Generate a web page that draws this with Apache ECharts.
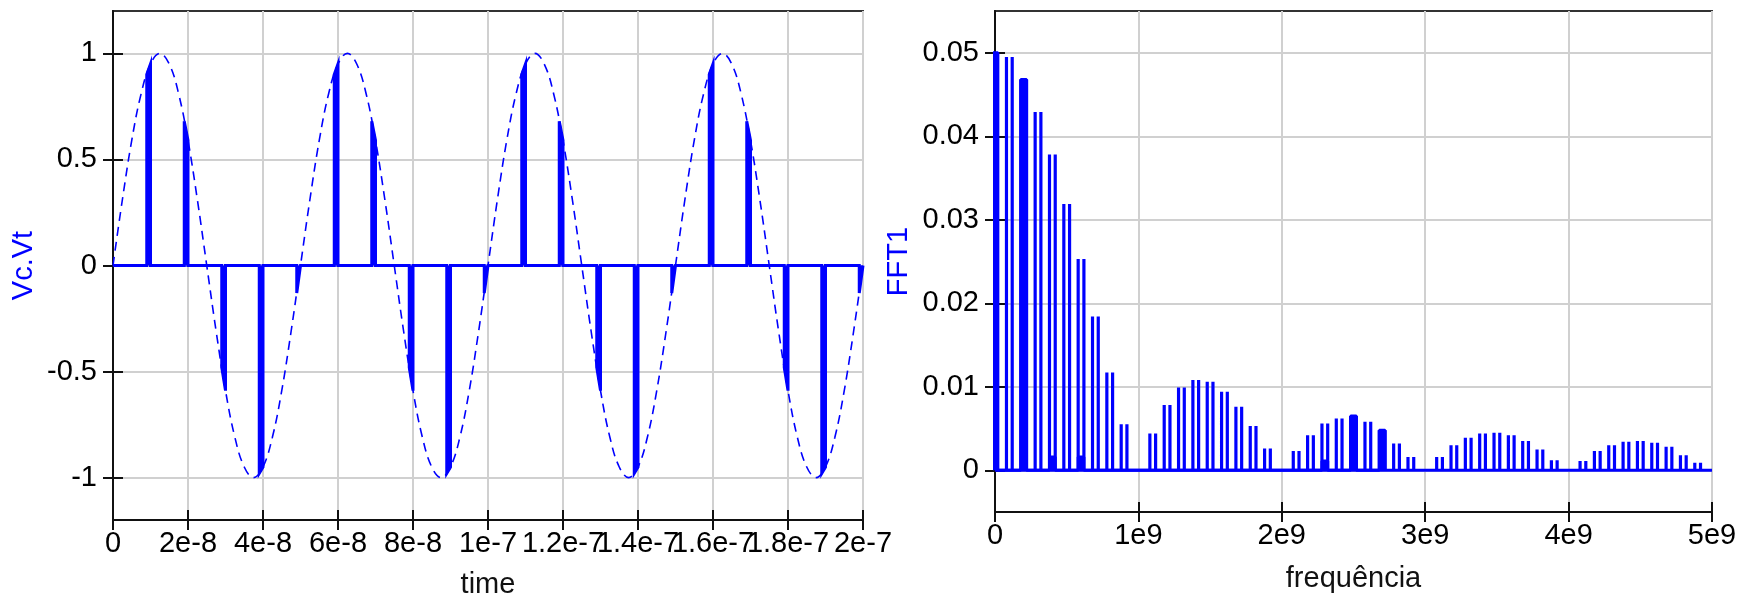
<!DOCTYPE html>
<html><head><meta charset="utf-8">
<script src="https://cdn.jsdelivr.net/npm/echarts@6/dist/echarts.min.js"></script>
<style>html,body{margin:0;padding:0;background:#fff}#c{width:1752px;height:597px}</style>
</head><body><div id="c"></div>
<script>
// ---------- Left chart: time domain ----------
const sineTimeNs = [0,2.5,5,7.5,10,12.5,15,17.5,20,22.5,25,27.5,30,32.5,35,37.5,40,42.5,45,47.5,
  50,52.5,55,57.5,60,62.5,65,67.5,70,72.5,75,77.5,80,82.5,85,87.5,90,92.5,95,97.5,
  100,102.5,105,107.5,110,112.5,115,117.5,120,122.5,125,127.5,130,132.5,135,137.5,140,142.5,145,147.5,
  150,152.5,155,157.5,160,162.5,165,167.5,170,172.5,175,177.5,180,182.5,185,187.5,190,192.5,195,197.5,200];
const sineValues = [0,0.31,0.59,0.81,0.95,1,0.95,0.81,0.59,0.31,0,-0.31,-0.59,-0.81,-0.95,-1,-0.95,-0.81,-0.59,-0.31,
  0,0.31,0.59,0.81,0.95,1,0.95,0.81,0.59,0.31,0,-0.31,-0.59,-0.81,-0.95,-1,-0.95,-0.81,-0.59,-0.31,
  0,0.31,0.59,0.81,0.95,1,0.95,0.81,0.59,0.31,0,-0.31,-0.59,-0.81,-0.95,-1,-0.95,-0.81,-0.59,-0.31,
  0,0.31,0.59,0.81,0.95,1,0.95,0.81,0.59,0.31,0,-0.31,-0.59,-0.81,-0.95,-1,-0.95,-0.81,-0.59,-0.31,0];
const pulseEndNs = [10,20,30,40,50,60,70,80,90,100,110,120,130,140,150,160,170,180,190,200];
const pulseStartValues = [0.90,0.68,-0.48,-0.98,-0.13, 0.90,0.68,-0.48,-0.98,-0.13,
  0.90,0.68,-0.48,-0.98,-0.13, 0.90,0.68,-0.48,-0.98,-0.13];
const pulseEndValues = [0.95,0.59,-0.59,-0.95,0, 0.95,0.59,-0.59,-0.95,0,
  0.95,0.59,-0.59,-0.95,0, 0.95,0.59,-0.59,-0.95,0];
const pulseWidthNs = 1;
const timeTickValues = [0,2e-8,4e-8,6e-8,8e-8,1e-7,1.2e-7,1.4e-7,1.6e-7,1.8e-7,2e-7];
const timeTickLabels = ['0','2e-8','4e-8','6e-8','8e-8','1e-7','1.2e-7','1.4e-7','1.6e-7','1.8e-7','2e-7'];
const voltTickValues = [-1,-0.5,0,0.5,1];
const voltTickLabels = ['-1','-0.5','0','0.5','1'];

// ---------- Right chart: spectrum ----------
const specCenters = [1e8,2e8,3e8,4e8,5e8,6e8,7e8,8e8,9e8,
  11e8,12e8,13e8,14e8,15e8,16e8,17e8,18e8,19e8,
  21e8,22e8,23e8,24e8,25e8,26e8,27e8,28e8,29e8,
  31e8,32e8,33e8,34e8,35e8,36e8,37e8,38e8,39e8,
  41e8,42e8,43e8,44e8,45e8,46e8,47e8,48e8,49e8];
const specHeights = [0.0495,0.0468,0.0429,0.0378,0.0319,0.0253,0.0184,0.0117,0.0055,
  0.0044,0.0078,0.0099,0.0108,0.0106,0.0094,0.0076,0.0053,0.0026,
  0.0023,0.0042,0.0056,0.0062,0.0065,0.0058,0.0048,0.0032,0.0016,
  0.0016,0.0030,0.0039,0.0044,0.0045,0.0042,0.0035,0.0025,0.0012,
  0.0011,0.0023,0.0030,0.0034,0.0035,0.0033,0.0028,0.0018,0.0009];
const sidebandOffset = 2e7;
const filledCenters = [0,2e8,4e8,6e8,23e8,25e8,27e8];
const filledHeights = [0.050,0.0468,0.0016,0.0016,0.0011,0.0065,0.0048];
const freqTickValues = [0,1e9,2e9,3e9,4e9,5e9];
const freqTickLabels = ['0','1e9','2e9','3e9','4e9','5e9'];
const fftTickValues = [0,0.01,0.02,0.03,0.04,0.05];
const fftTickLabels = ['0','0.01','0.02','0.03','0.04','0.05'];

// ---------- build series data ----------
const sineData = sineTimeNs.map((t,i)=>[t*1e-9, sineValues[i]]);
const pulseData = [[0,0]];
pulseEndNs.forEach((te,i)=>{
  const ts=(te-pulseWidthNs)*1e-9, t=te*1e-9;
  pulseData.push([ts,0],[ts,pulseStartValues[i]],[t,pulseEndValues[i]],[t,0]);
});
const specData=[[0,0]];
specCenters.forEach((c,i)=>{
  [c-sidebandOffset,c+sidebandOffset].forEach(f=>specData.push([f,0],[f,specHeights[i]],[f,0]));
});
specData.push([5e9,0]);
const fillData=[];
filledCenters.forEach((c,i)=>{
  const a=c-sidebandOffset,b=c+sidebandOffset,h=filledHeights[i];
  fillData.push([a,0],[a,h],[b,h],[b,0]);
});

function lookup(values, labels){
  return function(v){
    let best=0;
    for(let i=1;i<values.length;i++) if(Math.abs(values[i]-v)<Math.abs(values[best]-v)) best=i;
    return labels[best];
  };
}

const FONT='Liberation Sans, Arial, sans-serif';
const BLUE='#0000ff';
const labelStyle={fontSize:29,color:'#000',fontFamily:FONT};
const gridLine={show:true,lineStyle:{color:'#d0d0d0',width:2}};
const axLine={show:true,onZero:false,lineStyle:{color:'#111',width:2}};

function mainX(grid,min,max,vals,labs,name,gap){
  return {type:'value',gridIndex:grid,min:min,max:max,position:'bottom',
    name:name,nameLocation:'middle',nameGap:gap,nameTextStyle:{fontSize:29,color:'#111',fontFamily:FONT},
    axisLine:axLine,
    axisTick:{show:true,length:10,inside:false,customValues:vals,lineStyle:{color:'#111',width:2}},
    axisLabel:Object.assign({margin:9,customValues:vals,formatter:lookup(vals,labs),hideOverlap:false},labelStyle),
    splitLine:gridLine};
}
function innerX(grid,min,max,vals){
  return {type:'value',gridIndex:grid,min:min,max:max,position:'bottom',
    axisLine:{show:false,onZero:false},
    axisTick:{show:true,length:10,inside:true,customValues:vals,lineStyle:{color:'#111',width:2}},
    axisLabel:{show:false},splitLine:{show:false}};
}
function mainY(grid,min,max,vals,labs,name,gap){
  return {type:'value',gridIndex:grid,min:min,max:max,position:'left',
    name:name,nameLocation:'middle',nameGap:gap,nameTextStyle:{fontSize:29,color:BLUE,fontFamily:FONT},
    axisLine:axLine,
    axisTick:{show:true,length:10,inside:false,customValues:vals,lineStyle:{color:'#111',width:2}},
    axisLabel:Object.assign({margin:16,customValues:vals,formatter:lookup(vals,labs),hideOverlap:false},labelStyle),
    splitLine:gridLine};
}
function innerY(grid,min,max,vals){
  return {type:'value',gridIndex:grid,min:min,max:max,position:'left',
    axisLine:{show:false,onZero:false},
    axisTick:{show:true,length:10,inside:true,customValues:vals,lineStyle:{color:'#111',width:2}},
    axisLabel:{show:false},splitLine:{show:false}};
}

const chart=echarts.init(document.getElementById('c'),null,{renderer:'canvas'});
chart.setOption({
  backgroundColor:'#fff',
  animation:false,
  grid:[
    {left:113,top:11,width:750,height:509,show:true,borderColor:'#333',borderWidth:2,containLabel:false,outerBoundsMode:'none'},
    {left:995,top:11,width:717,height:501,show:true,borderColor:'#333',borderWidth:2,containLabel:false,outerBoundsMode:'none'}
  ],
  xAxis:[
    mainX(0,0,2e-7,timeTickValues,timeTickLabels,'time',50),
    innerX(0,0,2e-7,timeTickValues),
    mainX(1,0,5e9,freqTickValues,freqTickLabels,'frequência',52),
    innerX(1,0,5e9,freqTickValues)
  ],
  yAxis:[
    Object.assign(mainY(0,-1.2,1.2,voltTickValues,voltTickLabels,'Vc.Vt',75),{minInterval:0.5,maxInterval:0.5}),
    innerY(0,-1.2,1.2,voltTickValues),
    Object.assign(mainY(1,-0.005,0.055,fftTickValues,fftTickLabels,'FFT1',82),{minInterval:0.01,maxInterval:0.01}),
    innerY(1,-0.005,0.055,fftTickValues)
  ],
  series:[
    {type:'line',xAxisIndex:0,yAxisIndex:0,data:sineData,smooth:0.4,showSymbol:false,symbol:'none',
      lineStyle:{color:BLUE,width:1.6,type:[9,6]},z:3},
    {type:'line',xAxisIndex:0,yAxisIndex:0,data:pulseData,showSymbol:false,symbol:'none',
      lineStyle:{color:BLUE,width:3,join:'miter'},areaStyle:{color:BLUE,opacity:1,origin:0},z:4},
    {type:'line',xAxisIndex:2,yAxisIndex:2,data:fillData,showSymbol:false,symbol:'none',
      lineStyle:{color:BLUE,width:3},areaStyle:{color:BLUE,opacity:1,origin:0},z:3},
    {type:'line',xAxisIndex:2,yAxisIndex:2,data:specData,showSymbol:false,symbol:'none',
      lineStyle:{color:BLUE,width:3.2},z:4}
  ]
});
</script></body></html>
